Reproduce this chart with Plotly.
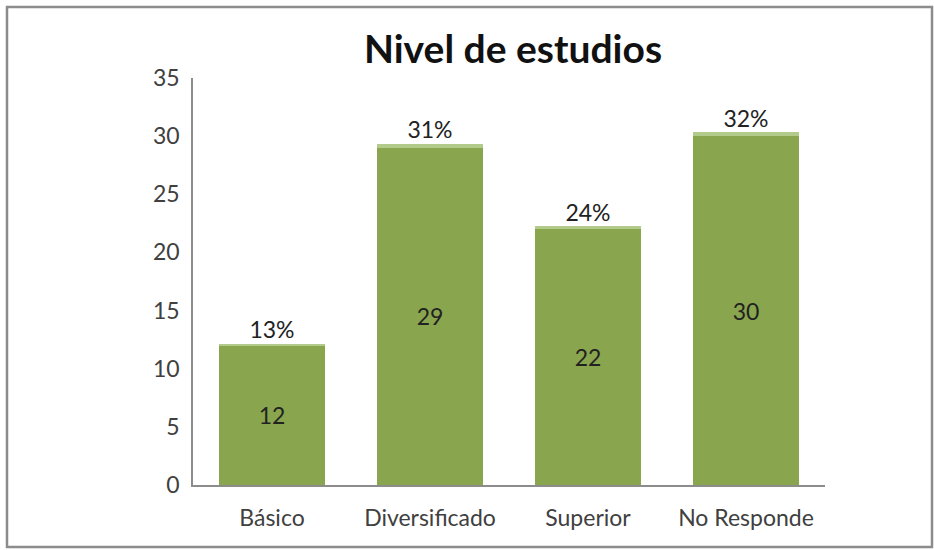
import plotly.graph_objects as go

categorias = ['Básico', 'Diversificado', 'Superior', 'No Responde']
cantidad = [12, 29, 22, 30]
porcentaje = [0.13, 0.31, 0.24, 0.32]
etiquetas_pct = ['13%', '31%', '24%', '32%']
ticks_y = [0, 5, 10, 15, 20, 25, 30, 35]

fuente = 'Lato'
gris = '#404040'

fig = go.Figure()
fig.add_trace(go.Bar(
    x=categorias, y=cantidad, marker_color='#89A54E', marker_line_width=0,
    text=[str(v) for v in cantidad], textposition='inside', insidetextanchor='middle',
    textfont=dict(family=fuente, size=23, color='#222222'), width=0.665,
))
fig.add_trace(go.Bar(
    x=categorias, y=porcentaje, marker_color='#B3CB8A', marker_line_width=0,
    width=0.665, hoverinfo='skip',
))
fig.add_trace(go.Scatter(
    x=categorias, y=[c + p for c, p in zip(cantidad, porcentaje)], mode='text',
    text=etiquetas_pct, textposition='top center',
    textfont=dict(family=fuente, size=23, color='#222222'),
))

W, L, R, T, B = 934, 193, 109, 78, 65
pw, ph = W - L - R, 550 - T - B
def px_x(p):
    return (p - L) / pw
def px_y(p):
    return (550 - B - p) / ph

fig.add_shape(type='rect', xref='paper', yref='paper',
              x0=px_x(7), x1=px_x(932), y0=px_y(547), y1=px_y(7),
              line=dict(color='#8C8C8C', width=2.5), layer='below')

fig.update_layout(
    width=W, height=550, barmode='stack', showlegend=False,
    margin=dict(l=L, r=R, t=T, b=B),
    plot_bgcolor='white', paper_bgcolor='white',
    title=dict(text='<b>Nivel de estudios</b>', x=513 / W, xanchor='center',
               y=1 - 49 / 550, yanchor='middle',
               font=dict(family=fuente, size=39, color='#111111')),
    font=dict(family=fuente, color=gris),
)
fig.update_yaxes(range=[0, 35], tickvals=ticks_y, showgrid=False, showline=True,
                 linecolor='#8C8C8C', linewidth=1.5, ticks='', ticklen=0,
                 ticklabelstandoff=7,
                 tickfont=dict(size=23, color=gris), zeroline=False)
fig.update_xaxes(showline=True, linecolor='#8C8C8C', linewidth=1.5, ticks='',
                 ticklabelstandoff=12,
                 tickfont=dict(size=23, color=gris), range=[-0.5, 3.5])

fig.write_html('out.html', config={'displayModeBar': False},
               post_script="document.body.style.margin='0';")
